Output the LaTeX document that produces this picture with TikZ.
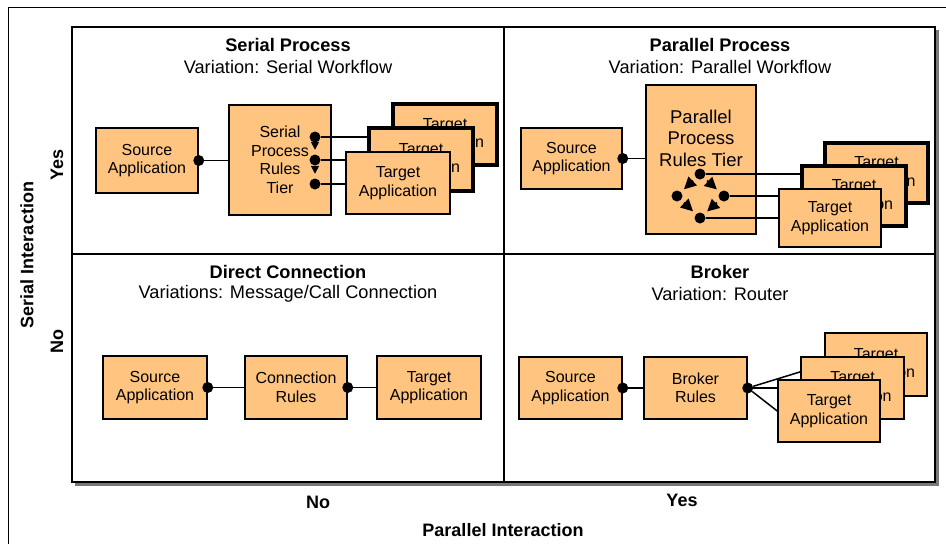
\documentclass[tikz,border=0pt]{standalone}
\usepackage{fontspec}
\setmainfont{Liberation Sans}
\usetikzlibrary{arrows.meta}
\definecolor{boxfill}{RGB}{255,196,128}
\definecolor{shadowgray}{RGB}{120,120,120}
\pgfdeclarelayer{frame}
\pgfdeclarelayer{back}
\pgfdeclarelayer{front}
\pgfsetlayers{frame,back,main,front}
\tikzset{
  appbox/.style={draw=black, line width=1.5pt, fill=boxfill, align=center, inner sep=0pt,
    font=\fontsize{16}{18.5}\selectfont, minimum width=103pt, minimum height=62pt},
  thickbox/.style={appbox, line width=3.5pt},
  dotnode/.style={circle, fill=black, draw=none, minimum size=11pt, inner sep=0pt},
  conn/.style={line width=1.5pt, draw=black},
  flowarrow/.style={line width=1.8pt, -{Triangle[length=12pt,width=12pt]}, shorten >=4pt, shorten <=4pt},
  smallarrow/.style={line width=1.5pt, -{Triangle[length=8pt,width=8pt]}, shorten >=4.5pt, shorten <=4pt},
  quadtitle/.style={font=\fontsize{18.2}{20}\selectfont\bfseries},
  quadsub/.style={font=\fontsize{18.2}{20}\selectfont},
  axislabel/.style={font=\fontsize{18}{20}\selectfont\bfseries},
}
\begin{document}
\begin{tikzpicture}[x=1pt,y=-1pt]
\useasboundingbox (0,0) rectangle (946,544);
\begin{pgfonlayer}{frame}
% outer frame (partially visible)
\draw[line width=1pt] (8,544) -- (8,7) -- (946,7);
% inner frame with shadow
\fill[shadowgray] (75,30) rectangle (938.5,485.5);
\fill[white] (72,27) rectangle (935,482);
\draw[line width=2.5pt] (72,27) rectangle (935,482);
\draw[line width=2pt] (504,27) -- (504,482);
\draw[line width=2pt] (72,254) -- (935,254);
\end{pgfonlayer}

% titles
\node[quadtitle] (ttl1) at (288,45) {Serial Process};
\node[quadsub] (sub1) at (288,67) {Variation: Serial Workflow};
\node[quadtitle] (ttl2) at (720,45) {Parallel Process};
\node[quadsub] (sub2) at (720,67) {Variation: Parallel Workflow};
\node[quadtitle] (ttl3) at (288,272) {Direct Connection};
\node[quadsub] (sub3) at (288,294) {Variations: Message/Call Connection};
\node[quadtitle] (ttl4) at (720,272) {Broker};
\node[quadsub] (sub4) at (720,294) {Variation: Router};

% axis labels
\node[axislabel, rotate=90] (yaxis) at (27,255) {Serial Interaction};
\node[axislabel, rotate=90] (yyes) at (57,165) {Yes};
\node[axislabel, rotate=90] (yno) at (57,341) {No};
\node[axislabel] (xno) at (318,502) {No};
\node[axislabel] (xyes) at (682,500) {Yes};
\node[axislabel] (xaxis) at (503,530) {Parallel Interaction};

% ---------- boxes on back layer
\begin{pgfonlayer}{back}
\node[appbox, minimum width=102pt, minimum height=65pt] (s1) at (147,160.5) {Source\\Application};
\node[appbox, minimum width=102pt, minimum height=110pt] (r1) at (280,160) {Serial\\Process\\Rules\\Tier};
\node[appbox, minimum width=101pt, minimum height=61pt] (s2) at (571.5,158.5) {Source\\Application};
\node[appbox, minimum width=110pt, minimum height=149pt] (r2) at (701,159.5) {};
\node[appbox, minimum width=104pt, minimum height=63pt] (s3) at (155,387.5) {Source\\Application};
\node[appbox, minimum width=102pt, minimum height=63pt] (r3) at (296,387.5) {Connection\\Rules};
\node[appbox, minimum width=104pt, minimum height=63pt] (t3) at (429,387.5) {Target\\Application};
\node[appbox, minimum width=103pt, minimum height=62pt] (s4) at (570.5,388) {Source\\Application};
\node[appbox, minimum width=103pt, minimum height=62pt] (r4) at (695.5,388) {Broker\\Rules};
\end{pgfonlayer}
\node[align=center, inner sep=0pt, font=\fontsize{18.5}{21.5}\selectfont] (r2t) at (701,138) {Parallel\\Process\\Rules Tier};

% ---------- target stacks and dots on front layer
\begin{pgfonlayer}{front}
% serial
\node[thickbox, minimum width=104pt, minimum height=61pt] (t1c) at (445,134.5) {Target\\Application};
\node[thickbox, minimum width=104pt, minimum height=63pt] (t1b) at (421,159.5) {Target\\Application};
\node[appbox, minimum width=104pt, minimum height=62pt] (t1a) at (398,183) {Target\\Application};
% parallel
\node[thickbox, minimum width=103pt, minimum height=60pt] (t2c) at (876.5,173) {Target\\Application};
\node[thickbox, minimum width=104pt, minimum height=60pt] (t2b) at (854,196) {Target\\Application};
\node[appbox, minimum width=102pt, minimum height=58pt] (t2a) at (830,218) {Target\\Application};
% broker
\node[appbox, minimum width=102pt, minimum height=63pt] (t4c) at (876,364.5) {Target\\Application};
\node[appbox, minimum width=103pt, minimum height=62pt] (t4b) at (852.5,388) {Target\\Application};
\node[appbox, minimum width=102pt, minimum height=62pt] (t4a) at (829,411) {Target\\Application};
% dots
\node[dotnode] (ds1) at (s1.east) {};
\node[dotnode] (d1a) at (315,137) {};
\node[dotnode] (d1b) at (315,160) {};
\node[dotnode] (d1c) at (315,184) {};
\node[dotnode] (ds2) at (s2.east) {};
\node[dotnode] (d2t) at (700,174) {};
\node[dotnode] (d2l) at (677,196) {};
\node[dotnode] (d2r) at (724,196) {};
\node[dotnode] (d2b) at (700,218) {};
\node[dotnode] (ds3) at (s3.east) {};
\node[dotnode] (dr3) at (r3.east) {};
\node[dotnode] (ds4) at (s4.east) {};
\node[dotnode] (dr4) at (r4.east) {};
\end{pgfonlayer}

% ---------- connectors (main layer)
% serial
\draw[conn] (ds1) -- (ds1 -| r1.west);
\draw[conn] (d1a) -- (d1a -| t1b.west);
\draw[conn] (d1b) -- (d1b -| t1a.west);
\draw[conn] (d1c) -- (d1c -| t1a.west);
\draw[smallarrow] (d1a) -- (d1b);
\draw[smallarrow] (d1b) -- (d1c);
% parallel
\draw[conn] (ds2) -- (ds2 -| r2.west);
\draw[conn] (d2t) -- (d2t -| t2b.west);
\draw[conn] (d2r) -- (d2r -| t2a.west);
\draw[conn] (d2b) -- (d2b -| t2a.west);
\draw[flowarrow] (d2t) -- (d2l);
\draw[flowarrow] (d2t) -- (d2r);
\draw[flowarrow] (d2l) -- (d2b);
\draw[flowarrow] (d2r) -- (d2b);
% direct
\draw[conn] (ds3) -- (r3.west);
\draw[conn] (dr3) -- (t3.west);
% broker
\draw[conn] (ds4) -- (r4.west);
\draw[conn] (dr4) -- (t4c.west);
\draw[conn] (dr4) -- (t4b.west);
\draw[conn] (dr4) -- (t4a.west);
\end{tikzpicture}
\end{document}
